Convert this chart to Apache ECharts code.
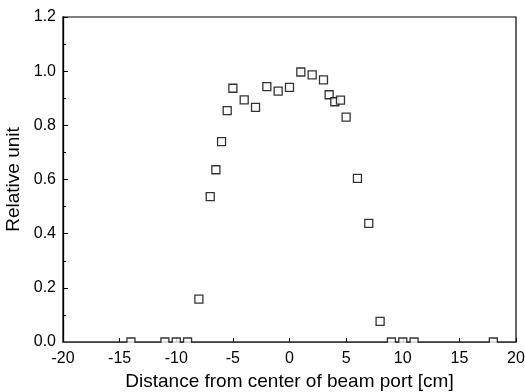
<!DOCTYPE html>
<html>
<head>
<meta charset="utf-8">
<script src="https://cdn.jsdelivr.net/npm/echarts@6/dist/echarts.min.js"></script>
<style>
html,body{margin:0;padding:0;background:#fff;}
#chart{width:525px;height:392px;}
</style>
</head>
<body>
<div id="chart"></div>
<script>
// Measured profile: x position [cm] and relative value
const xPositions = [-14, -11, -10, -9, -8, -7, -6.5, -6, -5.5, -5, -4, -3, -2, -1, 0, 1, 2, 3, 3.5, 4, 4.5, 5, 6, 7, 8, 9, 10, 11, 18];
const relValues  = [0, 0, 0, 0, 0.158, 0.537, 0.636, 0.74, 0.854, 0.937, 0.894, 0.866, 0.943, 0.926, 0.94, 0.997, 0.986, 0.968, 0.913, 0.887, 0.893, 0.83, 0.604, 0.438, 0.076, 0, 0, 0, 0];
const xTitle = 'Distance from center of beam port [cm]';
const yTitle = 'Relative unit';

const points = xPositions.map((x, i) => [x, relValues[i]]);
const font = 'Liberation Sans, Arial, sans-serif';

const W = 525, H = 392;
const gridL = 63, gridR = 9, gridT = 17, gridB = 50;

const chart = echarts.init(document.getElementById('chart'), null, {renderer: 'canvas'});
chart.setOption({
  animation: false,
  backgroundColor: '#fff',
  grid: {left: gridL, right: gridR, top: gridT, bottom: gridB, containLabel: false, outerBoundsMode: 'none',
    show: true, borderColor: '#000', borderWidth: 1.2, backgroundColor: 'transparent'},
  xAxis: {
    type: 'value', min: -20, max: 20, interval: 5,
    name: xTitle, nameLocation: 'middle', nameGap: 27,
    nameTextStyle: {fontFamily: font, fontSize: 19, color: '#000'},
    axisLine: {show: true, onZero: false, lineStyle: {color: '#000', width: 1.3}},
    axisTick: {show: true, inside: true, length: 4, lineStyle: {color: '#000'}},
    minorTick: {show: false},
    splitLine: {show: false},
    axisLabel: {fontFamily: font, fontSize: 16, color: '#000', margin: 9}
  },
  yAxis: {
    type: 'value', min: 0, max: 1.2, interval: 0.2,
    name: yTitle, nameLocation: 'middle', nameGap: 40, nameRotate: 90,
    nameTextStyle: {fontFamily: font, fontSize: 19, color: '#000'},
    axisLine: {show: true, onZero: false, lineStyle: {color: '#000', width: 1.3}},
    axisTick: {show: true, inside: true, length: 5, lineStyle: {color: '#000'}},
    minorTick: {show: true, splitNumber: 2, length: 3, lineStyle: {color: '#000'}},
    splitLine: {show: false},
    axisLabel: {fontFamily: font, fontSize: 16, color: '#000', margin: 7,
      formatter: v => v.toFixed(1)}
  },
  // white band just below the x axis line: hides the lower half of markers sitting on y = 0
  graphic: [{
    type: 'rect', z: 100, silent: true,
    shape: {x: gridL - 8, y: H - gridB + 0.8, width: W - gridL - gridR + 16, height: 4.5},
    style: {fill: '#fff'}
  }],
  series: [{
    type: 'scatter',
    data: points,
    symbol: 'rect',
    symbolSize: 8,
    itemStyle: {color: '#fff', borderColor: '#000', borderWidth: 1.3}
  }]
});
</script>
</body>
</html>
